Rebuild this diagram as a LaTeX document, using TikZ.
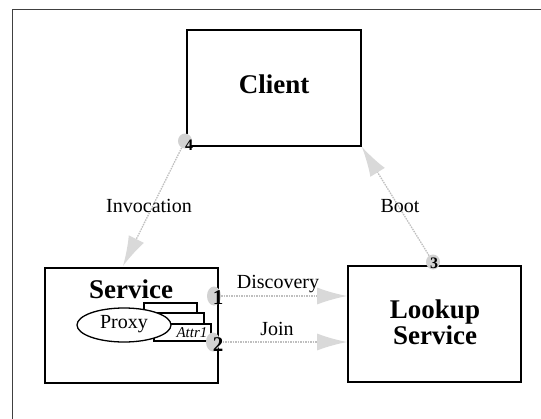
\documentclass[tikz,border=0pt]{standalone}
\usepackage{fontspec}
\setmainfont{Liberation Serif}
\usetikzlibrary{arrows.meta,shapes.geometric}
\begin{document}
\begin{tikzpicture}[x=1pt,y=-1pt,
  box/.style={draw, line width=1.6pt, inner sep=0pt},
  title/.style={font=\fontsize{27}{26}\selectfont\bfseries, inner sep=0pt, align=center},
  lbl/.style={font=\fontsize{20}{22}\selectfont, inner sep=0pt},
  num/.style={font=\bfseries, inner sep=0pt},
  halo/.style={ellipse, fill=gray!35, minimum width=14pt, minimum height=19pt, inner sep=0pt},
  card/.style={draw, fill=white, line width=1.1pt, minimum width=#1, minimum height=17pt, inner sep=0pt},
  conn/.style={draw=gray!50, line width=1.3pt, dash pattern=on 1.5pt off 1pt,
    -{Latex[length=30pt,width=17pt,fill=gray!30,color=gray!30]}},
]
\useasboundingbox (0,0) rectangle (541,418);
\begin{scope}
  \clip (0,0) rectangle (541,418);
  \draw[line width=0.8pt, black!75] (12,9) rectangle (600,460);
\end{scope}

% main boxes
\node[box, minimum width=174pt, minimum height=116pt] (client) at (274,88) {};
\node[box, minimum width=173pt, minimum height=115pt] (service) at (131.5,325.5) {};
\node[box, minimum width=173pt, minimum height=116pt] (lookup) at (434.5,324) {};

\node[title] (clienttxt) at (274,84) {Client};
\node[title] (servicetxt) at (131,289) {Service};
\node[title] (lookuptxt) at (435,322) {Lookup\\Service};

% attribute cards behind the proxy
\node[card=53pt] (cardA) at (170.5,311.5) {};
\node[card=54pt] (cardB) at (177,321.5) {};
\node[card=57pt] (cardC) at (182.5,332.5) {};
\node[font=\fontsize{15}{15}\selectfont\itshape, inner sep=0pt] (attr) at (192,333) {Attr1};
\node[ellipse, draw, fill=white, line width=1.3pt, minimum width=94pt, minimum height=34pt, inner sep=0pt] (proxy) at (124,325) {};
\node[lbl] (proxytxt) at (124,324) {Proxy};

% halos marking the numbered ends
\node[halo] (h1) at (214,296) {};
\node[halo] (h2) at (213,342) {};
\node[halo, minimum height=15pt] (h3) at (433,262) {};
\node[halo, minimum height=15pt] (h4) at (185,141) {};

% connectors
\coordinate (d1) at (lookup.west |- h1);
\coordinate (d2) at (lookup.west |- h2);
\coordinate (svctop) at (123,266);
\draw[conn] (h1) -- (d1);
\draw[conn] (h2) -- (d2);
\draw[conn] (h3) -- (client.south east);
\draw[conn] (h4) -- (svctop);

% numbers
\node[num, font=\fontsize{21}{21}\selectfont\bfseries] (n1) at (218,298) {1};
\node[num, font=\fontsize{21}{21}\selectfont\bfseries] (n2) at (218,345) {2};
\node[num, font=\fontsize{16}{16}\selectfont\bfseries] (n3) at (434,263) {3};
\node[num, font=\fontsize{16}{16}\selectfont\bfseries] (n4) at (189,145) {4};

% connector labels
\node[lbl] (inv) at (149,206) {Invocation};
\node[lbl] (boot) at (400,206) {Boot};
\node[lbl] (disc) at (278,284) {Discovery};
\node[lbl] (join) at (277,329) {Join};
\end{tikzpicture}
\end{document}
